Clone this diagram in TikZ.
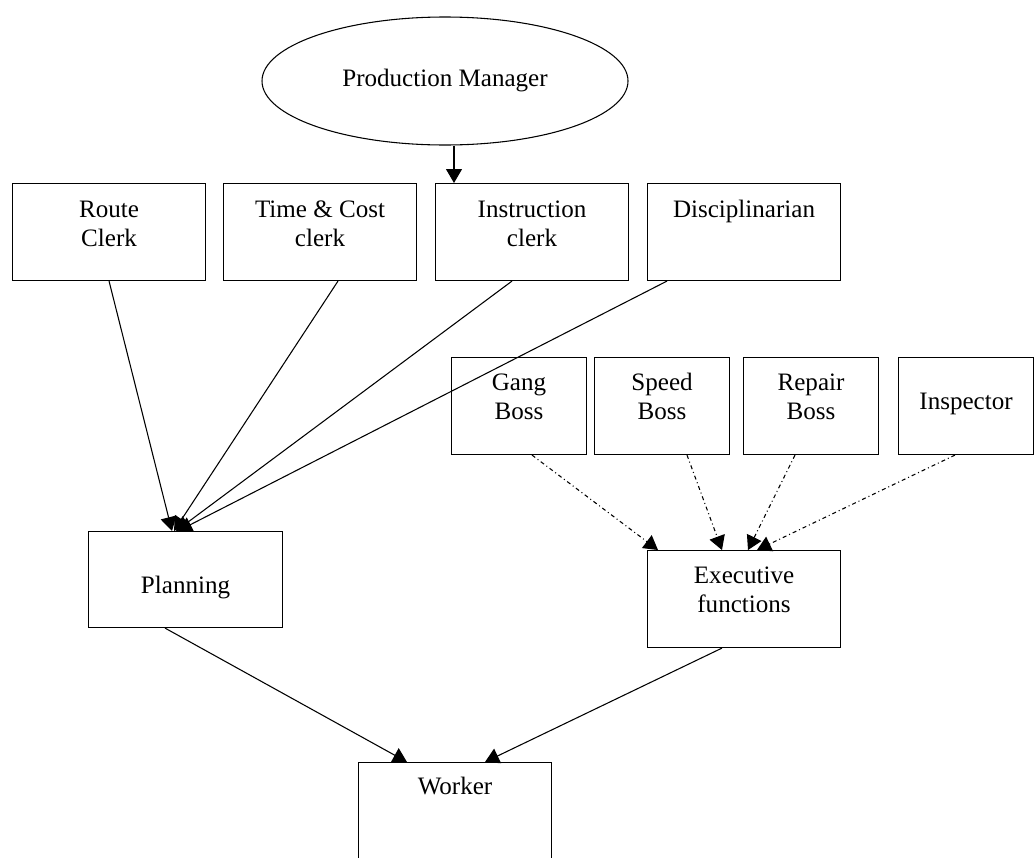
\documentclass[tikz,border=0pt]{standalone}
\usepackage{fontspec}
\setmainfont{Liberation Serif}
\usetikzlibrary{arrows.meta, shapes.geometric}

\begin{document}
\begin{tikzpicture}[x = 0.75pt, y = -0.75pt, line width = 0.8pt,
		every node/.append style = {font=\fontsize{18.8}{21.5}\selectfont},
		box/.style = {draw, anchor=north west, align=center, inner xsep=0pt, inner ysep=0pt},
		clerk/.style = {box, minimum width=144.75pt, text height=47pt, text depth=25.75pt},
		boss/.style = {box, minimum width=101.25pt, text height=46.25pt, text depth=26.5pt},
		tip/.style = {-{Triangle[length=10.5pt, width=12pt]}},
		dashdot/.style = {tip, dash pattern=on 3pt off 2.25pt on 0.75pt off 2.25pt}]
	\useasboundingbox (0,0) rectangle (1035,857);

	\node[draw, ellipse, inner sep=0pt, minimum width=274.5pt, minimum height=96pt] (pm) at (445,81) {Production Manager};

	\node[clerk] (route) at (12,183) {Route\\Clerk};
	\node[clerk] (tcc) at (223,183) {Time \& Cost\\clerk};
	\node[clerk] (instr) at (435,183) {Instruction\\clerk};
	\node[clerk, text height=25.5pt, text depth=47.25pt] (disc) at (647,183) {Disciplinarian};

	\node[boss] (gang) at (451,357) {Gang\\Boss};
	\node[boss] (speed) at (594,357) {Speed\\Boss};
	\node[boss] (repair) at (743,357) {Repair\\Boss};
	\node[boss, text height=39pt, text depth=33.75pt] (insp) at (898,357) {Inspector};

	\node[box, minimum width=145.5pt, text height=46.5pt, text depth=25.5pt] (plan) at (88,531) {Planning};
	\node[box, minimum width=144.75pt, text height=46.25pt, text depth=26.5pt] (exec) at (647,550) {Executive\\functions};
	\node[box, minimum width=144.75pt, text height=24pt, text depth=66pt] (worker) at (358,762) {Worker};

	\path[tip]
		([xshift=6.75pt]pm.south) edge ([xshift=14.25pt]instr.north west)
		(route.south) edge ([xshift=63pt]plan.north west)
		([xshift=86.25pt]tcc.south west) edge ([xshift=64.5pt]plan.north west)
		([xshift=57.75pt]instr.south west) edge ([xshift=66pt]plan.north west)
		([xshift=15pt]disc.south west) edge ([xshift=67.5pt]plan.north west)
		([xshift=57.75pt]plan.south west) edge ([xshift=36.75pt]worker.north west)
		([xshift=56.25pt]exec.south west) edge ([xshift=95.25pt]worker.north west);

	\path[dashdot]
		([xshift=60.75pt]gang.south west) edge ([xshift=8.25pt]exec.north west)
		([xshift=69.75pt]speed.south west) edge ([xshift=56.25pt]exec.north west)
		([xshift=39pt]repair.south west) edge ([xshift=75.75pt]exec.north west)
		([xshift=42.75pt]insp.south west) edge ([xshift=82.5pt]exec.north west);
\end{tikzpicture}
\end{document}
